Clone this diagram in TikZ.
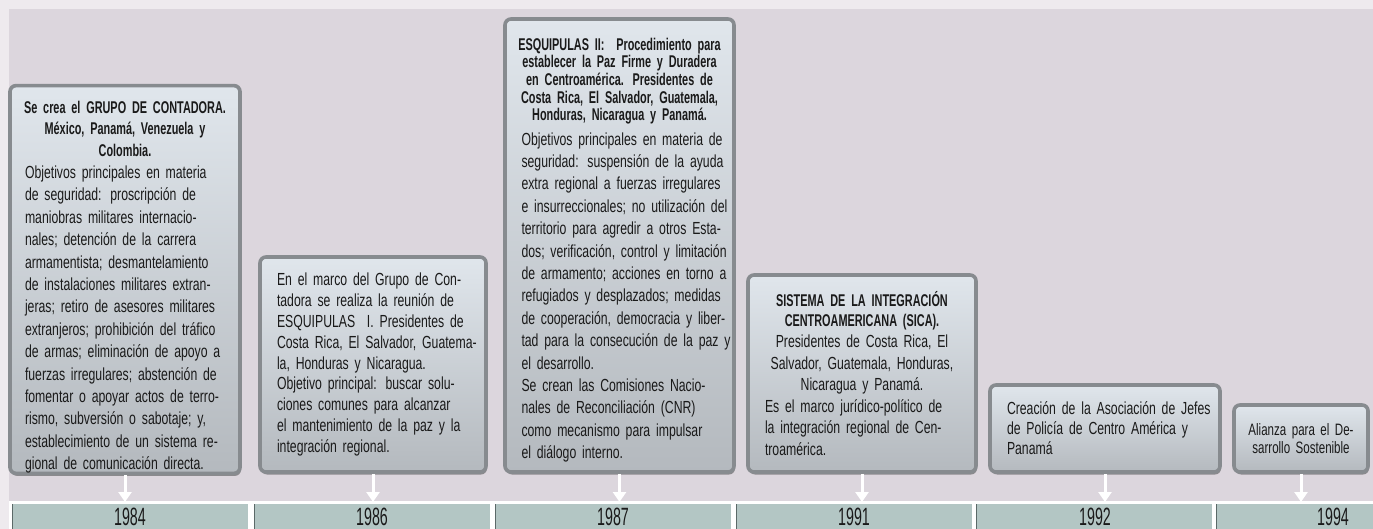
\documentclass[tikz,border=0pt]{standalone}
\usepackage{fontspec}
\setmainfont{Liberation Sans}[FakeStretch=0.70, BoldFeatures={FakeStretch=0.64}]
\newfontfamily\yearfont{Liberation Sans}[FakeStretch=0.57]
\usetikzlibrary{shadows,arrows.meta}
\definecolor{bgouter}{HTML}{EEEAEE}
\definecolor{panel}{HTML}{DCD6DD}
\definecolor{boxtop}{HTML}{E0E6EC}
\definecolor{boxbot}{HTML}{B4B9BE}
\definecolor{boxborder}{HTML}{878B8F}
\definecolor{cellfill}{HTML}{B3C6C4}
\definecolor{celledge}{HTML}{5B6968}
\definecolor{txt}{HTML}{1A1A1A}
\newcommand\jl[1]{\makebox[\linewidth][s]{#1}\par}
\newcommand\cl[1]{\makebox[\linewidth][c]{#1}\par}
\newcommand\hdr{\bfseries\fontsize{17}{21.5}\selectfont}
\begin{document}
\begin{tikzpicture}[x=1pt,y=-1pt,
  evbox/.style={draw=boxborder, line width=3.6pt, rounded corners=6pt,
    top color=boxtop, bottom color=boxbot, inner sep=0pt,
    drop shadow={shadow xshift=1pt,shadow yshift=-2.5pt,opacity=0.55,fill=black!70},
    text=txt, font=\fontsize{17.5}{22.4}\selectfont},
  evarrow/.style={draw=white, line width=3pt, -{Triangle[length=10pt,width=13pt]}},
  cell/.style={fill=cellfill, minimum width=236pt, minimum height=30pt, inner sep=0pt,
    anchor=north west},
  year/.style={anchor=base, inner sep=0pt, text=txt, font=\yearfont\fontsize{25}{28}\selectfont},
  edge/.style={draw=celledge, line width=1pt}]
\useasboundingbox (0,0) rectangle (1373,529);
\fill[bgouter] (0,0) rectangle (1373,529);
\fill[panel] (9,9) rectangle (1373,501);
\fill[white] (9,501) rectangle (1373,529);
\coordinate (bartop) at (0,502);

% year cells
\node[cell] (c1) at (12,504) {};
\node[cell] (c2) at (254,504) {};
\node[cell] (c3) at (495,504) {};
\node[cell] (c4) at (736,504) {};
\node[cell] (c5) at (976,504) {};
\node[cell] (c6) at (1216,504) {};
\foreach \c in {c1,c2,c3,c4,c5,c6}
  \draw[edge] (\c.north west) -- (\c.south west);
\node[year] (y1) at (130,525.5) {1984};
\node[year] (y2) at (372,525.5) {1986};
\node[year] (y3) at (613,525.5) {1987};
\node[year] (y4) at (854,525.5) {1991};
\node[year] (y5) at (1095,525.5) {1992};
\node[year] (y6) at (1333,525.5) {1994};

% boxes
\node[evbox, minimum width=230pt, minimum height=385pt, text width=200pt] (b1) at (125,279.5) {%
\vspace*{6pt}
{\hdr\cl{Se crea el GRUPO DE CONTADORA.}\cl{México, Panamá, Venezuela y}\cl{Colombia.}}
\jl{Objetivos principales en materia}
\jl{de seguridad: proscripción de}
\jl{maniobras militares internacio-}
\jl{nales; detención de la carrera}
\jl{armamentista; desmantelamiento}
\jl{de instalaciones militares extran-}
\jl{jeras; retiro de asesores militares}
\jl{extranjeros; prohibición del tráfico}
\jl{de armas; eliminación de apoyo a}
\jl{fuerzas irregulares; abstención de}
\jl{fomentar o apoyar actos de terro-}
\jl{rismo, subversión o sabotaje; y,}
\jl{establecimiento de un sistema re-}
gional de comunicación directa.\par};

\node[evbox, minimum width=226pt, minimum height=215pt, text width=192pt,
  font=\fontsize{17.5}{20.8}\selectfont] (b2) at (373,364.5) {%
\jl{En el marco del Grupo de Con-}
\jl{tadora se realiza la reunión de}
\jl{ESQUIPULAS\ \ I. Presidentes de}
\jl{Costa Rica, El Salvador, Guatema-}
la, Honduras y Nicaragua.\par
\jl{Objetivo principal: buscar solu-}
\jl{ciones comunes para alcanzar}
\jl{el mantenimiento de la paz y la}
integración regional.\par};

\node[evbox, minimum width=229pt, minimum height=453pt, text width=196pt] (b3) at (619.5,245.5) {%
\vspace*{4pt}
{\bfseries\fontsize{17}{17.6}\selectfont
\cl{ESQUIPULAS II:\ \ Procedimiento para}
\cl{establecer la Paz Firme y Duradera}
\cl{en Centroamérica. Presidentes de}
\cl{Costa Rica, El Salvador, Guatemala,}
\cl{Honduras, Nicaragua y Panamá.}}
\vspace{2pt}
\jl{Objetivos principales en materia de}
\jl{seguridad: suspensión de la ayuda}
\jl{extra regional a fuerzas irregulares}
\jl{e insurreccionales; no utilización del}
\jl{territorio para agredir a otros Esta-}
\jl{dos; verificación, control y limitación}
\jl{de armamento; acciones en torno a}
\jl{refugiados y desplazados; medidas}
\jl{de cooperación, democracia y liber-}
\jl{tad para la consecución de la paz y}
el desarrollo.\par
\jl{Se crean las Comisiones Nacio-}
\jl{nales de Reconciliación (CNR)}
\jl{como mecanismo para impulsar}
el diálogo interno.\par};

\node[evbox, minimum width=228pt, minimum height=197pt, text width=194pt,
  font=\fontsize{17.5}{21.5}\selectfont] (b4) at (862,373.5) {%
{\bfseries\fontsize{17}{20}\selectfont
\cl{SISTEMA DE LA INTEGRACIÓN}
\cl{CENTROAMERICANA (SICA).}}
\cl{Presidentes de Costa Rica, El}
\cl{Salvador, Guatemala, Honduras,}
\cl{Nicaragua y Panamá.}
\jl{Es el marco jurídico-político de}
\jl{la integración regional de Cen-}
troamérica.\par};

\node[evbox, minimum width=230pt, minimum height=87pt, text width=196pt,
  font=\fontsize{17.5}{20}\selectfont] (b5) at (1105,428.5) {%
\jl{Creación de la Asociación de Jefes}
\jl{de Policía de Centro América y}
Panamá\par};

\node[evbox, minimum width=134pt, minimum height=67pt, text width=120pt,
  font=\fontsize{16.5}{18}\selectfont] (b6) at (1301,438.5) {%
\cl{Alianza para el De-}\cl{sarrollo Sostenible}};

% arrows
\foreach \b in {b1,b2,b3,b4,b5,b6}
  \draw[evarrow] (\b.south) -- (\b.south |- bartop);
\end{tikzpicture}
\end{document}
